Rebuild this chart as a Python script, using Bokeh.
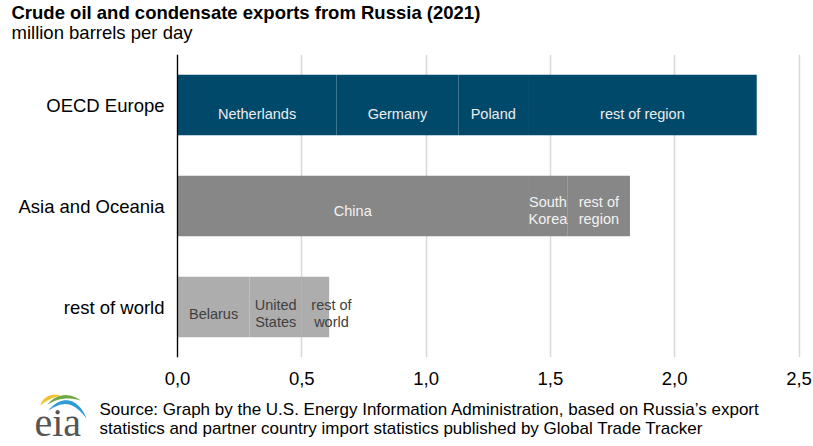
import numpy as np
from bokeh.plotting import figure
from bokeh.layouts import column
from bokeh.models import ColumnDataSource, FactorRange, Range1d, FixedTicker
from bokeh.core.properties import value
from bokeh.embed import file_html
from bokeh.resources import INLINE

# ---------------- data ----------------
regions = ["OECD Europe", "Asia and Oceania", "rest of world"]
seg_region = ["OECD Europe"] * 4 + ["Asia and Oceania"] * 3 + ["rest of world"] * 3
seg_labels = ["Netherlands", "Germany", "Poland", "rest of region",
              "China", "South\nKorea", "rest of\nregion",
              "Belarus", "United\nStates", "rest of\nworld"]
seg_values = [0.64, 0.49, 0.28, 0.92,
              1.41, 0.16, 0.25,
              0.29, 0.21, 0.11]
tick_values = [0.0, 0.5, 1.0, 1.5, 2.0, 2.5]
tick_labels = ["0,0", "0,5", "1,0", "1,5", "2,0", "2,5"]

title_text = "Crude oil and condensate exports from Russia (2021)"
subtitle_text = "million barrels per day"
source_lines = ["Source: Graph by the U.S. Energy Information Administration, based on Russia\u2019s export",
                "statistics and partner country import statistics published by Global Trade Tracker"]

# ---------------- styles ----------------
FONT = "Liberation Sans"
W = 813
HEAD_H, MAIN_H = 54, 339
FOOT_H = 446 - HEAD_H - MAIN_H
AXIS_PX = 177          # page x of value 0
PX_PER_UNIT = 248.6    # pixels per million b/d
region_color = {"OECD Europe": "#01496B", "Asia and Oceania": "#878787", "rest of world": "#ADADAD"}
region_text_color = {"OECD Europe": "#EDEDED", "Asia and Oceania": "#F2F2F2", "rest of world": "#404040"}
region_dy = {"OECD Europe": 9, "Asia and Oceania": 4.5, "rest of world": 6.5}
label_dx = [0, 0, 0, 0, 0, 0, 0, 0, 0, 16]

# stacked positions per region
left, right = [], []
running = {r: 0.0 for r in regions}
for r, v in zip(seg_region, seg_values):
    left.append(running[r])
    running[r] += v
    right.append(running[r])
xc = [(a + b) / 2 for a, b in zip(left, right)]

src = ColumnDataSource(dict(
    region=seg_region, left=left, right=right, xc=xc, label=seg_labels,
    color=[region_color[r] for r in seg_region],
    tcolor=[region_text_color[r] for r in seg_region],
    dy=[region_dy[r] for r in seg_region],
    dx=label_dx,
))


def blank(height, y0, y1):
    f = figure(width=W, height=height, output_backend="svg", toolbar_location=None,
               x_range=Range1d(0, W), y_range=Range1d(y1, y0),
               x_axis_type=None, y_axis_type=None,
               min_border=0, min_border_left=0, min_border_right=0,
               min_border_top=0, min_border_bottom=0)
    f.outline_line_color = None
    f.xgrid.visible = False
    f.ygrid.visible = False
    f.background_fill_color = "white"
    f.border_fill_color = "white"
    return f


# ---------------- header ----------------
head = blank(HEAD_H, 0, HEAD_H)
head.text(x=[11], y=[11.5], text=[title_text], text_font=value(FONT),
          text_font_size=value("18.5px"), text_font_style="bold",
          text_color="#000000", text_baseline="middle", text_align="left")
head.text(x=[11], y=[31.5], text=[subtitle_text], text_font=value(FONT),
          text_font_size=value("18.5px"), text_color="#000000",
          text_baseline="middle", text_align="left")

# ---------------- main chart ----------------
x_start = -AXIS_PX / PX_PER_UNIT
x_end = (W - AXIS_PX) / PX_PER_UNIT
p = figure(width=W, height=MAIN_H, output_backend="svg", toolbar_location=None,
           y_range=FactorRange(factors=regions[::-1], range_padding=0),
           x_range=Range1d(x_start, x_end),
           min_border=0, min_border_left=0, min_border_right=0,
           min_border_top=0, min_border_bottom=36)
p.outline_line_color = None
p.background_fill_color = "white"
p.border_fill_color = "white"

p.hbar(y="region", left="left", right="right", height=0.6, source=src,
       fill_color="color", line_color=None)

p.text(x="xc", y="region", text="label", source=src,
       x_offset="dx", y_offset="dy",
       text_align="center", text_baseline="middle",
       text_font=value(FONT), text_font_size=value("14.5px"),
       text_color="tcolor", text_line_height=1.12)

p.xaxis.ticker = FixedTicker(ticks=tick_values)
p.xaxis.major_label_overrides = {t: l for t, l in zip(tick_values, tick_labels)}
p.xaxis.axis_line_color = None
p.xaxis.major_tick_line_color = None
p.xaxis.minor_tick_line_color = None
p.xaxis.major_tick_out = 0
p.xaxis.major_label_standoff = 14
p.xaxis.major_label_text_font = FONT
p.xaxis.major_label_text_font_size = "18.5px"
p.xaxis.major_label_text_color = "#000000"

p.yaxis.fixed_location = 0
p.yaxis.axis_line_color = "#000000"
p.yaxis.axis_line_width = 1.3
p.yaxis.major_tick_line_color = None
p.yaxis.minor_tick_line_color = None
p.yaxis.major_tick_out = 0
p.yaxis.major_tick_in = 0
p.yaxis.major_label_standoff = 13
p.yaxis.major_label_text_font = FONT
p.yaxis.major_label_text_font_size = "18.5px"
p.yaxis.major_label_text_color = "#000000"

p.xgrid.ticker = FixedTicker(ticks=tick_values)
p.xgrid.grid_line_color = "#D9D9D9"
p.xgrid.grid_line_width = 1.5
p.ygrid.grid_line_color = None

# ---------------- footer (source + logo) ----------------
foot_top = HEAD_H + MAIN_H
foot = blank(FOOT_H, foot_top, 446)
foot.text(x=[99, 99], y=[409, 428], text=source_lines, text_font=value(FONT),
          text_font_size=value("17px"), text_color="#000000",
          text_baseline="middle", text_align="left")
foot.text(x=[34], y=[421.5], text=["eia"], text_font=value("Liberation Serif"),
          text_font_size=value("40px"), text_color="#555555",
          text_baseline="middle", text_align="left")


def crescent(fig, p0, p1, p2, wmax, color):
    t = np.linspace(0, 1, 40)
    P0, P1, P2 = map(np.array, (p0, p1, p2))
    B = ((1 - t) ** 2)[:, None] * P0 + (2 * (1 - t) * t)[:, None] * P1 + (t ** 2)[:, None] * P2
    D = (2 * (1 - t))[:, None] * (P1 - P0) + (2 * t)[:, None] * (P2 - P1)
    N = np.stack([-D[:, 1], D[:, 0]], axis=1)
    N /= np.linalg.norm(N, axis=1)[:, None]
    w = wmax * np.sin(np.pi * t) ** 0.8 / 2
    outer = B + N * w[:, None]
    inner = B - N * w[:, None]
    poly = np.vstack([outer, inner[::-1]])
    fig.patch(poly[:, 0], poly[:, 1], fill_color=color, line_color=None)


crescent(foot, (40, 405), (46, 395), (60, 395), 3.5, "#F2C12E")
crescent(foot, (47, 404), (62, 391), (80, 400), 3.5, "#6BAA43")
crescent(foot, (48, 410), (70, 390), (86, 418), 4.0, "#2E9BD6")

layout = column(head, p, foot, spacing=0)
open("out.html", "w").write(file_html(layout, INLINE))
